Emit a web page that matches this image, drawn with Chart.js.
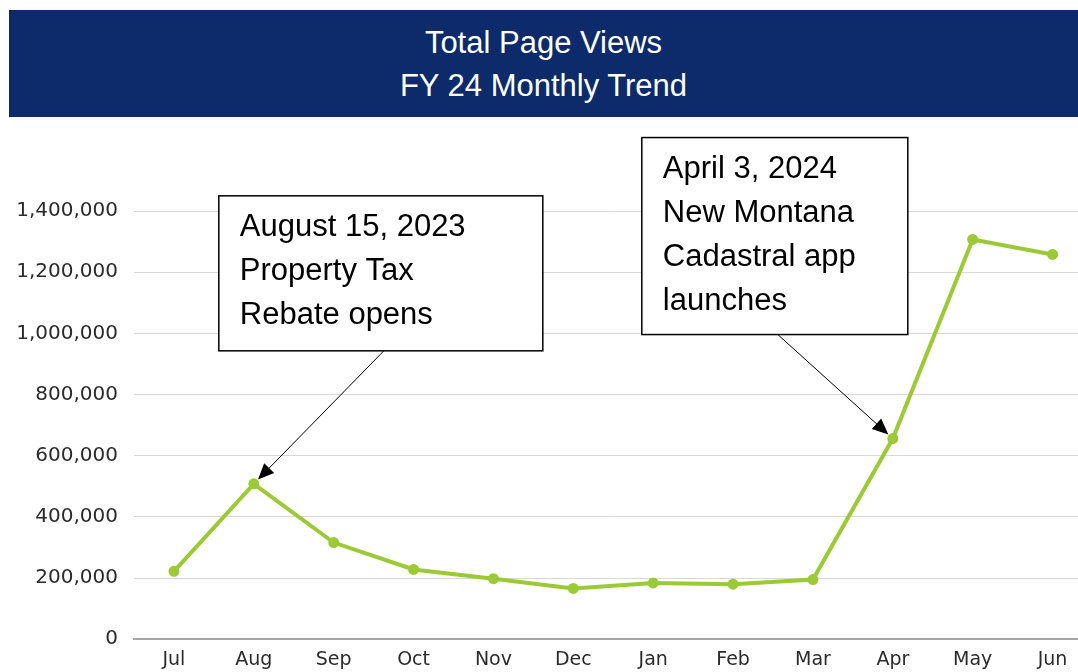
<!DOCTYPE html>
<html lang="en">
<head>
<meta charset="UTF-8">
<title>Total Page Views</title>
<script src="https://cdn.jsdelivr.net/npm/chart.js"></script>
<style>
body {
    margin: 0;
    padding: 0;
    background: #fff;
    overflow: hidden;
    width: 1078px;
    height: 672px;
    position: relative;
}
.banner {
    position: absolute;
    left: 9px;
    top: 10px;
    width: 1069px;
    height: 107px;
    background-color: #0d2b6b;
    color: #fff;
    font-family: "Liberation Sans", Arial, sans-serif;
    font-size: 31px;
    line-height: 43px;
    text-align: center;
    padding-top: 11px;
    box-sizing: border-box;
}
.chart-box {
    position: absolute;
    left: 0;
    top: 0;
    width: 1100px;
    height: 680px;
}
</style>
</head>
<body>
<div class="chart-box"><canvas id="views"></canvas></div>
<div class="banner">Total Page Views<br>FY 24 Monthly Trend</div>

<script>
// data
const months = ['Jul', 'Aug', 'Sep', 'Oct', 'Nov', 'Dec', 'Jan', 'Feb', 'Mar', 'Apr', 'May', 'Jun'];
const pageViews = [222000, 508000, 316000, 228000, 198000, 166000, 184000, 180000, 195000, 656000, 1307000, 1258000];
const yTicks = [0, 200000, 400000, 600000, 800000, 1000000, 1200000, 1400000];

const notes = [
    { month: 'Aug', lines: ['August 15, 2023', 'Property Tax', 'Rebate opens'],
      box: { dx: -35, dy: -288, w: 324, h: 155 }, from: { dx: 130, dy: -133 } },
    { month: 'Apr', lines: ['April 3, 2024', 'New Montana', 'Cadastral app', 'launches'],
      box: { dx: -251, dy: -301, w: 266, h: 197 }, from: { dx: -115, dy: -104 } }
];

// draws the callout boxes with arrows pointing at the data points
const calloutPlugin = {
    id: 'callouts',
    afterDatasetsDraw(chart) {
        const c = chart.ctx;
        const xs = chart.scales.x, ys = chart.scales.y;
        notes.forEach(n => {
            const i = months.indexOf(n.month);
            const px = xs.getPixelForValue(i);
            const py = ys.getPixelForValue(pageViews[i]);
            const bx = px + n.box.dx, by = py + n.box.dy;
            c.save();
            c.fillStyle = '#fff';
            c.strokeStyle = '#000';
            c.lineWidth = 1.5;
            c.fillRect(bx, by, n.box.w, n.box.h);
            c.strokeRect(bx, by, n.box.w, n.box.h);
            c.fillStyle = '#000';
            c.font = '31px "Liberation Sans", Arial, sans-serif';
            c.textBaseline = 'middle';
            n.lines.forEach((t, k) => c.fillText(t, bx + 21, by + 32 + k * 44));

            // arrow
            const sx = px + n.from.dx, sy = py + n.from.dy;
            const ang = Math.atan2(py - sy, px - sx);
            const tipX = px - Math.cos(ang) * 6, tipY = py - Math.sin(ang) * 6;
            c.lineWidth = 1;
            c.beginPath();
            c.moveTo(sx, sy);
            c.lineTo(tipX - Math.cos(ang) * 10, tipY - Math.sin(ang) * 10);
            c.stroke();
            c.beginPath();
            c.moveTo(tipX, tipY);
            c.lineTo(tipX - Math.cos(ang) * 16 + Math.sin(ang) * 7, tipY - Math.sin(ang) * 16 - Math.cos(ang) * 7);
            c.lineTo(tipX - Math.cos(ang) * 16 - Math.sin(ang) * 7, tipY - Math.sin(ang) * 16 + Math.cos(ang) * 7);
            c.closePath();
            c.fill();
            c.restore();
        });
    }
};

const ctx = document.getElementById('views').getContext('2d');
new Chart(ctx, {
    type: 'line',
    data: {
        labels: months,
        datasets: [{
            label: 'Total Page Views',
            data: pageViews,
            borderColor: '#9bca36',
            backgroundColor: '#9bca36',
            borderWidth: 4,
            pointRadius: 3.5,
            pointHoverRadius: 3.5,
            tension: 0
        }]
    },
    options: {
        responsive: true,
        maintainAspectRatio: false,
        animation: false,
        layout: { padding: { top: 211, right: 6, bottom: 0, left: 0 } },
        plugins: {
            legend: { display: false },
            tooltip: { enabled: false }
        },
        scales: {
            x: {
                offset: true,
                grid: { display: false, drawTicks: false },
                border: { color: '#a6a6a6', width: 2 },
                ticks: {
                    color: '#2b2b2b',
                    padding: 9,
                    font: { family: '"DejaVu Sans", sans-serif', size: 19 }
                }
            },
            y: {
                min: 0,
                max: 1400000,
                afterBuildTicks(scale) {
                    scale.ticks = yTicks.map(v => ({ value: v }));
                },
                afterFit(scale) { scale.width = 134; },
                grid: { color: '#d9d9d9', lineWidth: 1, drawTicks: false },
                border: { display: false },
                ticks: {
                    color: '#2b2b2b',
                    padding: 16,
                    font: { family: '"DejaVu Sans", sans-serif', size: 20 },
                    callback: v => v.toLocaleString('en-US')
                }
            }
        }
    },
    plugins: [calloutPlugin]
});
</script>
</body>
</html>
